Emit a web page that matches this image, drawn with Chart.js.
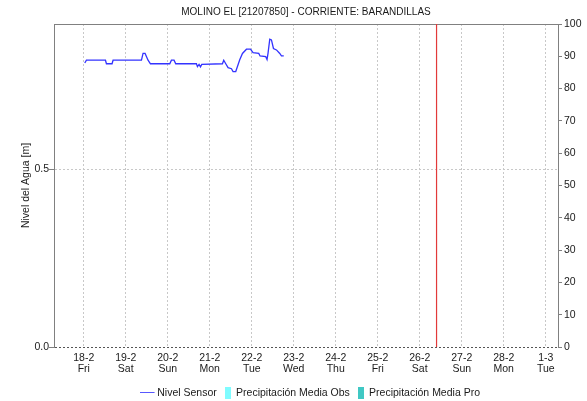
<!DOCTYPE html>
<html>
<head>
<meta charset="utf-8">
<script src="https://cdn.jsdelivr.net/npm/chart.js@4/dist/chart.umd.min.js"></script>
<style>
  html, body { margin: 0; padding: 0; background: #fff; }
  canvas { display: block; }
</style>
</head>
<body>
<canvas id="nivel-chart" width="587" height="401"></canvas>
<script>
// x values are days counted from 18-2 00:00
const dayLabels = ['18-2', '19-2', '20-2', '21-2', '22-2', '23-2', '24-2', '25-2', '26-2', '27-2', '28-2', '1-3'];
const weekDays = ['Fri', 'Sat', 'Sun', 'Mon', 'Tue', 'Wed', 'Thu', 'Fri', 'Sat', 'Sun', 'Mon', 'Tue'];
const xStart = -17 / 24;
const xEnd = 11 + 7 / 24;
const nowDay = 8.4;

const sensorDays = [
  0.024, 0.064, 0.517, 0.540, 0.674, 0.698, 1.374, 1.412, 1.460, 1.531, 1.588,
  2.048, 2.088, 2.150, 2.190, 2.683, 2.707, 2.745, 2.779, 2.810, 3.302, 3.333,
  3.381, 3.436, 3.517, 3.555, 3.619, 3.714, 3.779, 3.874, 3.969, 4.031, 4.167,
  4.198, 4.333, 4.364, 4.388, 4.429, 4.469, 4.517, 4.588, 4.667, 4.707, 4.762,
];
const sensorLevels = [
  0.800, 0.808, 0.808, 0.798, 0.798, 0.808, 0.808, 0.827, 0.827, 0.808, 0.798,
  0.798, 0.808, 0.808, 0.798, 0.798, 0.790, 0.796, 0.789, 0.796, 0.798, 0.808,
  0.798, 0.787, 0.784, 0.776, 0.776, 0.809, 0.827, 0.839, 0.839, 0.829, 0.827,
  0.820, 0.818, 0.810, 0.828, 0.867, 0.865, 0.841, 0.837, 0.827, 0.820, 0.820,
];
const levelMax = 0.91;
const levelTicks = [0, 0.5];
const precipMax = 100;

const FONT = "'Liberation Sans', Arial, sans-serif";
const TEXT = '#1a1a1a';
const AXIS = '#808080';
const GRID = '#c8c8c8';

// little images used as legend symbols
function legendSymbol(w, h, draw) {
  const c = document.createElement('canvas');
  c.width = w;
  c.height = h;
  draw(c.getContext('2d'));
  return c;
}
const lineSymbol = legendSymbol(19, 2, (g) => {
  g.fillStyle = '#2020ff';
  g.fillRect(0, 0, 15, 1);
});
const obsSymbol = legendSymbol(6, 12, (g) => {
  g.fillStyle = '#7ffcff';
  g.fillRect(0, 0, 6, 12);
});
const proSymbol = legendSymbol(6, 12, (g) => {
  g.fillStyle = '#40c8c4';
  g.fillRect(0, 0, 6, 12);
});
const symbols = [lineSymbol, obsSymbol, proSymbol];

// legend row sits a bit right of the plot centre in the original
const legendShift = {
  id: 'legendShift',
  afterLayout(chart) {
    chart.legend.left += 7;
    chart.legend.right += 7;
  },
};

const ctx = document.getElementById('nivel-chart').getContext('2d');
new Chart(ctx, {
  data: {
    datasets: [{
      type: 'line',
      label: 'Nivel Sensor',
      data: sensorDays.map((d, i) => ({ x: d, y: sensorLevels[i] })),
      borderColor: '#3333ff',
      borderWidth: 1.3,
      pointRadius: 0,
      tension: 0,
      yAxisID: 'y',
    }, {
      type: 'bar',
      label: 'Precipitación Media Obs',
      data: [],
      backgroundColor: '#7ffcff',
      yAxisID: 'y2',
    }, {
      type: 'bar',
      label: 'Precipitación Media Pro',
      data: [],
      backgroundColor: '#40c8c4',
      yAxisID: 'y2',
    }, {
      // current time marker
      type: 'line',
      label: 'now',
      data: [{ x: nowDay, y: 0 }, { x: nowDay, y: levelMax }],
      borderColor: '#e23a3a',
      borderWidth: 1.2,
      pointRadius: 0,
      yAxisID: 'y',
    }],
  },
  plugins: [legendShift],
  options: {
    responsive: false,
    animation: false,
    devicePixelRatio: 1,
    layout: { padding: { left: 0, right: 0, top: 0, bottom: -7 } },
    plugins: {
      title: {
        display: true,
        text: 'MOLINO EL [21207850] - CORRIENTE: BARANDILLAS',
        color: TEXT,
        fullSize: false,
        font: { family: FONT, size: 10, weight: 'normal' },
        padding: { top: 6, bottom: 6 },
      },
      legend: {
        position: 'bottom',
        fullSize: false,
        labels: {
          color: TEXT,
          font: { family: FONT, size: 10.5 },
          usePointStyle: true,
          boxWidth: 6,
          padding: 8,
          filter: (item) => item.text !== 'now',
          generateLabels: (chart) => Chart.defaults.plugins.legend.labels.generateLabels(chart)
            .map((item, i) => ({ ...item, pointStyle: symbols[i] })),
        },
      },
      tooltip: { enabled: false },
    },
    scales: {
      x: {
        type: 'linear',
        position: 'bottom',
        min: xStart,
        max: xEnd,
        offset: false,
        afterBuildTicks: (scale) => {
          scale.ticks = dayLabels.map((_, i) => ({ value: i }));
        },
        afterFit: (scale) => { scale.height = 32.5; },
        ticks: {
          color: TEXT,
          font: { family: FONT, size: 10.5, lineHeight: 1 },
          padding: 6,
          maxRotation: 0,
          autoSkip: false,
          callback: (value) => [dayLabels[value], weekDays[value]],
        },
        grid: { color: GRID, drawTicks: false, offset: false },
        border: { display: false, dash: [2, 2] },
      },
      xTop: {
        type: 'linear',
        position: 'top',
        min: xStart,
        max: xEnd,
        offset: false,
        afterFit: (scale) => { scale.height = 0; },
        ticks: { display: false },
        grid: { display: false },
        border: { color: AXIS, width: 1 },
      },
      y: {
        position: 'left',
        min: 0,
        max: levelMax,
        afterBuildTicks: (scale) => {
          scale.ticks = levelTicks.map((v) => ({ value: v }));
        },
        afterFit: (scale) => { scale.width = 54; },
        title: {
          display: true,
          text: 'Nivel del Agua [m]',
          color: TEXT,
          font: { family: FONT, size: 10.5 },
          padding: { top: 20, bottom: 0 },
        },
        ticks: {
          color: TEXT,
          font: { family: FONT, size: 10.5 },
          padding: 0,
          callback: (value) => value.toFixed(1),
        },
        grid: {
          color: (c) => (c.tick && c.tick.value === 0 ? '#555555' : GRID),
          tickColor: AXIS,
          tickLength: 5,
        },
        border: { color: AXIS, dash: [2, 2] },
      },
      y2: {
        position: 'right',
        min: 0,
        max: precipMax,
        afterFit: (scale) => { scale.width = 29; },
        ticks: {
          color: TEXT,
          font: { family: FONT, size: 10.5 },
          stepSize: 10,
          padding: 2,
        },
        grid: { drawOnChartArea: false, tickColor: AXIS, tickLength: 4 },
        border: { color: AXIS },
      },
    },
  },
});
</script>
</body>
</html>
